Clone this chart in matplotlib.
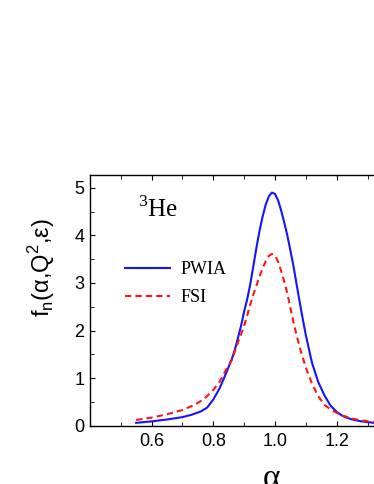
import matplotlib
matplotlib.use("Agg")
import matplotlib.pyplot as plt
from matplotlib.ticker import MultipleLocator, FormatStrFormatter

# values
alpha_pwia = [0.55, 0.60, 0.65, 0.70, 0.73, 0.76, 0.78, 0.80, 0.82, 0.84,
              0.86, 0.87, 0.88, 0.89, 0.90, 0.91, 0.92, 0.93, 0.94, 0.95,
              0.96, 0.97, 0.98, 0.99, 1.00, 1.01, 1.02, 1.03, 1.04, 1.05,
              1.06, 1.07, 1.08, 1.09, 1.10, 1.12, 1.14, 1.16, 1.18, 1.20,
              1.22, 1.25, 1.28, 1.32]
f_pwia = [0.06, 0.09, 0.13, 0.18, 0.23, 0.30, 0.38, 0.55, 0.78, 1.08,
          1.40, 1.60, 1.85, 2.10, 2.40, 2.66, 2.98, 3.36, 3.75, 4.10,
          4.40, 4.65, 4.82, 4.90, 4.87, 4.74, 4.52, 4.27, 4.00, 3.68,
          3.35, 2.97, 2.60, 2.24, 1.90, 1.32, 0.92, 0.64, 0.42, 0.29,
          0.20, 0.13, 0.09, 0.06]

alpha_fsi = [0.55, 0.60, 0.65, 0.70, 0.74, 0.77, 0.80, 0.82, 0.84, 0.86,
             0.88, 0.89, 0.90, 0.91, 0.92, 0.93, 0.94, 0.95, 0.96, 0.97,
             0.98, 0.99, 1.00, 1.01, 1.02, 1.03, 1.04, 1.05, 1.06, 1.07,
             1.08, 1.09, 1.10, 1.12, 1.14, 1.16, 1.18, 1.20, 1.22, 1.25,
             1.28, 1.32]
f_fsi = [0.12, 0.17, 0.24, 0.33, 0.44, 0.56, 0.75, 0.92, 1.16, 1.38,
         1.75, 1.92, 2.10, 2.32, 2.55, 2.76, 2.95, 3.14, 3.31, 3.46,
         3.57, 3.61, 3.57, 3.45, 3.25, 3.03, 2.78, 2.47, 2.17, 1.90,
         1.65, 1.43, 1.22, 0.88, 0.62, 0.44, 0.34, 0.27, 0.21, 0.15,
         0.11, 0.08]

x_ticks = [0.6, 0.8, 1.0, 1.2]

fig = plt.figure(figsize=(3.74, 4.84), dpi=100)
ax = fig.add_axes([0.2403, 0.1205, 0.825, 0.518])

ax.plot(alpha_pwia, f_pwia, color='#1414ff', lw=1.5, label='PWIA')
ax.plot(alpha_fsi, f_fsi, color='#ff1414', lw=1.5, ls=(0, (3, 2)), label='FSI')

ax.set_xlim(0.4, 1.4)
ax.set_ylim(0, 5.27)
ax.set_xticks(x_ticks)
ax.xaxis.set_minor_locator(MultipleLocator(0.1))
ax.yaxis.set_major_locator(MultipleLocator(1))
ax.yaxis.set_minor_locator(MultipleLocator(0.5))
ax.xaxis.set_major_formatter(FormatStrFormatter('%.1f'))

ax.tick_params(which='both', direction='in', top=True, right=True,
               labelfontfamily='Liberation Sans', labelsize=13)
ax.tick_params(axis='x', which='major', length=3.5, pad=5)
ax.tick_params(axis='y', which='major', length=3.5, pad=4)
ax.tick_params(which='minor', length=3)
for s in ax.spines.values():
    s.set_linewidth(1.0)

fig.text(42 / 374, 1 - 268 / 484, r'f$_\mathregular{n}$(α,Q$^\mathregular{2}$,ε)',
         rotation=90, ha='center', va='center', fontsize=17,
         family='Liberation Sans')
fig.text(272 / 374, 1 - 479 / 484, 'α', ha='center', va='center',
         fontsize=24, family='Liberation Serif')

ax.text(0.556, 4.39, r'$^\mathregular{3}$He', fontsize=18, va='baseline',
        family='Liberation Serif')

leg = ax.legend(loc='center left', bbox_to_anchor=(0.1138, 0.567), frameon=False,
                prop={'family': 'Liberation Serif', 'size': 13},
                borderpad=0, borderaxespad=0,
                handlelength=2.5, handletextpad=0.55, labelspacing=0.6)

fig.savefig('out.png', dpi=100)
